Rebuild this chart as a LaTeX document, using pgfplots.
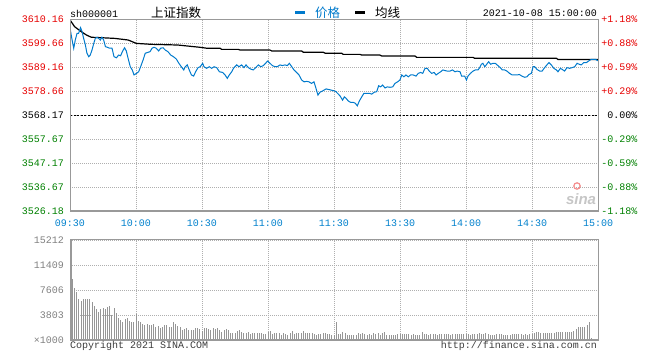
\documentclass[border=0pt]{standalone}
\usepackage{fontspec}
\setmainfont{Liberation Sans}
\setsansfont{Liberation Sans}
\setmonofont{Liberation Mono}
\newfontfamily\cjk{Noto Sans CJK SC}
\usepackage{pgfplots}
\pgfplotsset{compat=1.18}
\definecolor{sblue}{RGB}{0,122,204}
\definecolor{tickblue}{RGB}{0,128,204}
\definecolor{sred}{RGB}{230,0,0}
\definecolor{sgreen}{RGB}{0,128,0}
\definecolor{gridgray}{RGB}{175,175,175}
\definecolor{framegray}{RGB}{153,153,153}
\definecolor{volgray}{RGB}{150,150,150}
\definecolor{labgray}{RGB}{128,128,128}
\definecolor{txtgray}{RGB}{60,60,60}
\pgfplotsset{
  sinagrid/.style={
    grid=major,
    major grid style={gridgray, line width=0.8bp, dash pattern=on 1bp off 1bp},
    major tick length=0pt,
    axis line style={framegray, line width=1bp},
    ticklabel style={font=\ttfamily\fontsize{10bp}{12bp}\selectfont},
    scaled ticks=false,
  }
}
\begin{document}
\begin{tikzpicture}
\useasboundingbox (0bp,0bp) rectangle (660bp,360bp);

% ---------------- price panel ----------------
\begin{axis}[
  sinagrid,
  at={(70bp,148.5bp)}, anchor=south west,
  scale only axis, width=528bp, height=192bp,
  xmin=0, xmax=240, ymin=3526.18, ymax=3610.16,
  xtick={0,30,...,240},
  xticklabels={09:30,10:00,10:30,11:00,11:30,13:30,14:00,14:30,15:00},
  ytick={3526.18,3536.67,3547.17,3557.67,3568.17,3578.66,3589.16,3599.66,3610.16},
  yticklabels={\textcolor{sgreen}{3526.18},\textcolor{sgreen}{3536.67},\textcolor{sgreen}{3547.17},\textcolor{sgreen}{3557.67},\textcolor{black}{3568.17},\textcolor{sred}{3578.66},\textcolor{sred}{3589.16},\textcolor{sred}{3599.66},\textcolor{sred}{3610.16}},
  xticklabel style={text=tickblue, yshift=-5bp},
  yticklabel style={xshift=-2.5bp},
]
\addplot[black, line width=1bp, dash pattern=on 2bp off 1.5bp] coordinates {(0,3568.17) (240,3568.17)};
% average line
\addplot[black, line width=1.2bp] coordinates {
(0,3610.0) (2.1,3607.0) (5.2,3604.8) (7.4,3603.4) (9.7,3602.4) (14.2,3602.2) (20.3,3601.9) (26.4,3601.2) (30.2,3599.7) (37,3599.3) (49,3599.0) (59.1,3598.0) (62.1,3597.6) (68.2,3597.6) (68.9,3597.1) (76.5,3597.1) (77.3,3596.8) (90.9,3596.8) (91.7,3596.4) (105.3,3596.4) (106.1,3595.8) (115.2,3595.8) (116,3595.4) (123.5,3595.4) (124.2,3594.9) (131.8,3594.9) (132.6,3594.6) (140.9,3594.6) (141.7,3594.2) (156.8,3594.2) (157.6,3593.6) (183.2,3593.6) (183.9,3593.2) (221.1,3593.2) (221.8,3592.7) (240,3592.7)
};
% price line
\addplot[sblue, line width=1bp] coordinates {
(0,3606.5) (0.9,3601.5) (1.7,3597.6) (2.4,3601.2) (3.2,3604.1) (3.9,3604.1) (4.8,3606.6) (5.5,3604.8) (6.2,3601.9) (7.0,3599.0) (7.7,3595.4) (8.5,3593.9) (9.2,3594.6) (10.0,3596.8) (10.8,3599.7) (11.5,3601.9) (12.3,3602.4) (13.0,3601.9) (13.8,3601.2) (14.5,3602.4) (15.3,3601.2) (16.1,3598.3) (17.0,3598.0) (18.0,3597.6) (19.1,3597.6) (20.0,3593.9) (21.1,3593.4) (22.1,3594.6) (23.0,3594.3) (23.8,3596.1) (24.8,3597.8) (25.6,3596.4) (26.4,3593.2) (27.4,3589.5) (28.3,3588.1) (29.1,3585.9) (30.2,3586.6) (31.2,3587.3) (32.1,3589.5) (33.2,3592.4) (34.2,3595.4) (35.5,3595.8) (36.4,3596.1) (37.3,3597.6) (38.2,3598.0) (39.2,3597.6) (40.3,3596.4) (41.2,3597.6) (42.3,3597.8) (43.3,3596.8) (44.5,3596.1) (45.8,3594.6) (47.0,3593.9) (48.3,3592.9) (49.5,3591.0) (50.6,3589.5) (51.7,3588.1) (52.4,3589.5) (53.3,3590.3) (54.2,3588.1) (55.2,3585.9) (56.2,3585.4) (57.1,3587.3) (58.2,3589.1) (59.2,3589.5) (60.3,3591.0)
(60.9,3589.5) (62.1,3588.8) (63.3,3589.5) (64.4,3588.8) (65.5,3589.5) (66.7,3589.1) (67.9,3587.3) (69.4,3587.0) (70.5,3585.9) (71.5,3584.4) (72.4,3585.9) (73.5,3587.3) (74.5,3589.1) (75.8,3590.3) (76.8,3589.5) (78.0,3590.3) (79.1,3589.1) (80.0,3590.3) (81.1,3589.1) (82.1,3588.5) (83.3,3588.1) (84.4,3589.1) (85.6,3590.3) (86.7,3589.5) (87.9,3590.0) (88.9,3591.0) (89.8,3592.0) (90.9,3591.0) (92.0,3590.0) (93.2,3589.5) (94.2,3589.5) (95.5,3590.3) (96.5,3590.0) (97.7,3590.3) (98.8,3590.0) (99.7,3591.0) (100.8,3589.5) (101.8,3588.1) (103.0,3587.0) (104.1,3585.9) (105.3,3583.7) (106.4,3582.9) (107.6,3583.1) (108.6,3582.9) (109.8,3582.2) (110.9,3582.9) (111.8,3580.1) (112.7,3577.1) (113.6,3578.3) (114.8,3578.9) (116.4,3579.8) (118.2,3579.4) (120.3,3578.9)
(120.9,3578.6) (122.0,3577.5) (122.7,3576.8) (123.9,3574.9) (124.7,3576.3) (125.5,3575.7) (126.5,3574.5) (127.6,3573.9) (128.8,3573.9) (129.7,3573.5) (130.6,3572.4) (131.5,3574.5) (132.6,3576.3) (133.6,3577.9) (134.8,3577.9) (136.1,3577.9) (137.1,3577.5) (138.2,3578.3) (139.4,3578.6) (140.3,3581.2) (141.2,3580.7) (142.1,3581.5) (143.2,3580.2) (144.2,3580.7) (145.5,3580.5) (146.7,3580.7) (147.7,3582.2) (148.9,3582.9) (150.0,3583.7) (150.8,3585.9) (151.8,3585.1) (152.7,3585.9) (153.8,3585.1) (154.8,3585.9) (156.0,3585.9) (157.3,3585.4) (158.3,3586.6) (159.4,3587.0) (160.3,3586.6) (161.4,3588.8) (162.4,3588.8) (163.3,3587.6) (164.4,3586.6) (165.5,3587.0) (166.4,3585.9) (167.4,3586.6) (168.5,3587.3) (169.5,3588.1) (170.5,3587.8) (171.5,3587.6) (172.7,3587.6) (173.9,3588.1) (175.0,3587.3) (176.0,3587.6) (177.3,3587.3) (178.0,3585.4) (179.4,3585.4)
(180.2,3583.7) (180.9,3585.4) (182.0,3586.6) (183.2,3587.6) (184.3,3588.1) (185.5,3588.1) (186.2,3589.1) (187.0,3590.6) (187.7,3591.0) (188.5,3589.5) (189.2,3590.3) (190.3,3591.7) (191.2,3590.6) (192.3,3591.0) (193.3,3591.0) (194.5,3590.0) (195.6,3589.1) (196.5,3588.1) (197.6,3588.1) (198.6,3587.6) (199.8,3586.6) (201.0,3585.9) (202.1,3585.9) (203.2,3585.9) (204.3,3586.1) (205.4,3585.4) (206.6,3584.9) (207.7,3585.1) (208.6,3586.1) (209.7,3586.6) (210.5,3589.5) (211.2,3589.5) (212.3,3588.3) (213.5,3587.6) (214.6,3587.6) (215.5,3588.8) (216.5,3590.0) (217.7,3591.3) (218.8,3590.3) (219.9,3588.8) (221.1,3588.1) (221.8,3587.3) (222.9,3588.8) (223.8,3588.3) (224.8,3587.6) (225.9,3589.1) (227.1,3588.8) (228.2,3589.1) (229.4,3589.5) (230.5,3591.0) (231.4,3590.6) (232.4,3590.3) (233.5,3591.3) (234.7,3591.3) (235.9,3592.1) (236.9,3592.7) (238.0,3592.7) (238.9,3592.7) (239.9,3592.1)
};
\draw[framegray, line width=2bp] (rel axis cs:0,1) -- (rel axis cs:0,0) -- (rel axis cs:1,0);
\end{axis}

% right percentage axis
\begin{axis}[
  sinagrid, grid=none,
  at={(70bp,148.5bp)}, anchor=south west,
  scale only axis, width=528bp, height=192bp,
  xmin=0, xmax=240, ymin=3526.18, ymax=3610.16,
  axis x line=none, axis y line*=right,
  ytick={3526.18,3536.67,3547.17,3557.67,3568.17,3578.66,3589.16,3599.66,3610.16},
  yticklabels={\textcolor{sgreen}{-1.18\%},\textcolor{sgreen}{-0.88\%},\textcolor{sgreen}{-0.59\%},\textcolor{sgreen}{-0.29\%},\textcolor{black}{0.00\%},\textcolor{sred}{+0.29\%},\textcolor{sred}{+0.59\%},\textcolor{sred}{+0.88\%},\textcolor{sred}{+1.18\%}},
  yticklabel style={anchor=east, xshift=43bp},
]
\end{axis}

% ---------------- volume panel ----------------
\begin{axis}[
  sinagrid,
  at={(70bp,20bp)}, anchor=south west,
  scale only axis, width=528bp, height=100bp,
  xmin=0, xmax=240, ymin=0, ymax=15212,
  xtick={0,30,...,240}, xticklabel=\empty,
  ytick={0,3803,7606,11409,15212},
  yticklabels={×1000,3803,7606,11409,15212},
  yticklabel style={text=labgray, xshift=-2.5bp},
]
\addplot[ycomb, volgray, line width=1bp] coordinates {
(1,9300) (2,7900) (3,7300) (4,6240) (5,5980) (6,6240) (7,6240) (8,6240) (9,6240) (10,5780)
(11,5120) (12,4720) (13,4260) (14,4720) (15,4870) (16,4720) (17,4970) (18,5170) (19,3750) (20,4870)
(21,4110) (22,3350) (23,3040) (24,2740) (25,3200) (26,3350) (27,2890) (28,2790) (29,2740) (30,3900)
(31,2940) (32,2690) (33,2430) (34,2230) (35,2430) (36,2230) (37,2230) (38,2430) (39,1930) (40,2130)
(41,1825) (42,2030) (43,2230) (44,2230) (45,1930) (46,1930) (47,2740) (48,2430) (49,2180) (50,1930)
(51,1470) (52,1620) (53,1825) (54,1470) (55,1470) (56,1470) (57,1825) (58,1775) (59,1620) (60,1370)
(61,1825) (62,1775) (63,1720) (64,1470) (65,1825) (66,1720) (67,1825) (68,1470) (69,1220) (70,1470)
(71,1720) (72,1520) (73,1115) (74,1115) (75,1115) (76,1370) (77,1520) (78,1220) (79,1115) (80,1015)
(81,1165) (82,910) (83,1015) (84,1015) (85,1015) (86,1015) (87,1115) (88,910) (89,910) (90,1165)
(91,1370) (92,910) (93,1065) (94,1065) (95,1065) (96,810) (97,1015) (98,910) (99,810) (100,1015)
(101,1370) (102,860) (103,1065) (104,1065) (105,1065) (106,1370) (107,1015) (108,1115) (109,1015) (110,1015)
(111,910) (112,760) (113,910) (114,910) (115,1065) (116,1015) (117,910) (118,860) (119,760) (120,760)
(121,2740) (122,965) (123,910) (124,1165) (125,1065) (126,760) (127,760) (128,760) (129,760) (130,760)
(131,1015) (132,860) (133,1065) (134,910) (135,810) (136,860) (137,760) (138,1015) (139,910) (140,1065)
(141,760) (142,1015) (143,1165) (144,810) (145,810) (146,760) (147,760) (148,760) (149,910) (150,910)
(151,910) (152,910) (153,910) (154,910) (155,810) (156,910) (157,760) (158,760) (159,760) (160,1165)
(161,910) (162,910) (163,810) (164,910) (165,965) (166,965) (167,810) (168,910) (169,910) (170,910)
(171,910) (172,910) (173,760) (174,860) (175,910) (176,860) (177,965) (178,910) (179,860) (180,910)
(181,910) (182,760) (183,860) (184,860) (185,910) (186,1065) (187,965) (188,910) (189,1115) (190,910)
(191,760) (192,760) (193,760) (194,860) (195,860) (196,910) (197,810) (198,760) (199,810) (200,760)
(201,860) (202,910) (203,910) (204,965) (205,910) (206,760) (207,860) (208,760) (209,910) (210,910)
(211,1015) (212,1165) (213,1165) (214,1115) (215,1015) (216,1015) (217,1015) (218,1065) (219,1065) (220,1115)
(221,1165) (222,1270) (223,1165) (224,1165) (225,1165) (226,1270) (227,1270) (228,1270) (229,1420) (230,1720)
(231,1925) (232,2030) (233,2030) (234,2030) (235,2230) (236,2740) (237,355)
};
\draw[framegray, line width=3bp] (rel axis cs:0,1) -- (rel axis cs:0,0);
\draw[framegray, line width=2bp] (rel axis cs:0,0) -- (rel axis cs:1,0);
\end{axis}

% ---------------- header ----------------
\node[anchor=west, inner sep=0pt, font=\ttfamily\fontsize{10bp}{12bp}\selectfont] at (70bp,346.5bp) {sh000001};
\node[anchor=west, inner sep=0pt, font=\cjk\fontsize{12.5bp}{14bp}\selectfont] at (151bp,347.5bp) {上证指数};
\draw[sblue, line width=2.5bp] (295bp,347.5bp) -- (305bp,347.5bp);
\node[anchor=west, inner sep=0pt, text=sblue, font=\cjk\fontsize{12.5bp}{14bp}\selectfont] at (315bp,347.5bp) {价格};
\draw[black, line width=2.5bp] (355bp,347.5bp) -- (365bp,347.5bp);
\node[anchor=west, inner sep=0pt, font=\cjk\fontsize{12.5bp}{14bp}\selectfont] at (375bp,347.5bp) {均线};
\node[anchor=east, inner sep=0pt, font=\ttfamily\fontsize{10bp}{12bp}\selectfont] at (597bp,346.5bp) {2021-10-08 15:00:00};

% watermark
\draw[sred!45, line width=1.2bp] (577bp,174bp) circle (3.2bp);
\node[text=gray!45, font=\sffamily\bfseries\itshape\fontsize{15bp}{15bp}\selectfont, inner sep=0pt] at (581bp,161bp) {sina};

% footer
\node[anchor=west, inner sep=0pt, text=txtgray, font=\ttfamily\fontsize{10bp}{12bp}\selectfont] at (70bp,14bp) {Copyright 2021 SINA.COM};
\node[anchor=east, inner sep=0pt, text=txtgray, font=\ttfamily\fontsize{10bp}{12bp}\selectfont] at (597bp,14bp) {http://finance.sina.com.cn};
\end{tikzpicture}
\end{document}
